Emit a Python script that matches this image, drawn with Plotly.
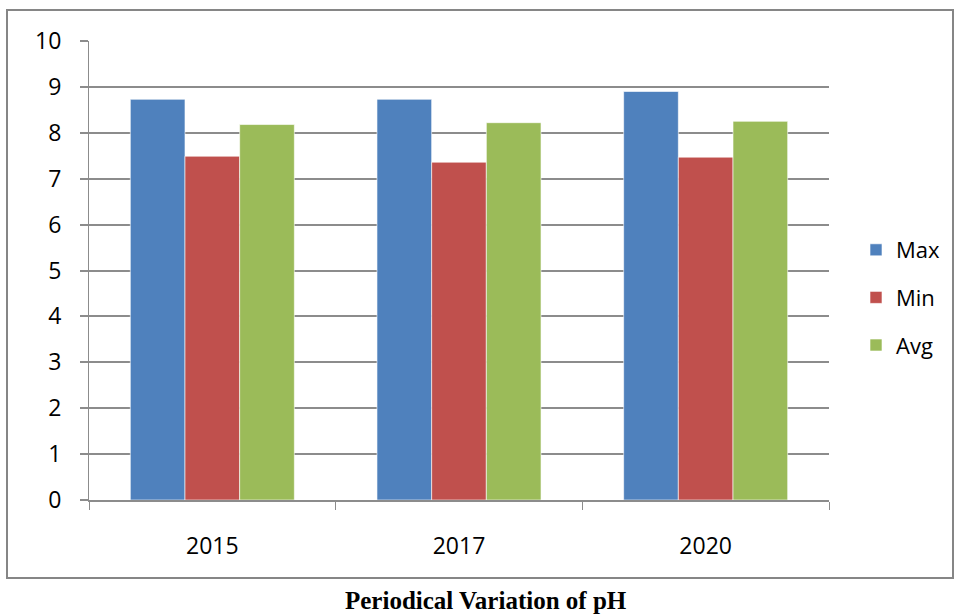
import plotly.graph_objects as go

# pH readings per survey year
years = ["2015", "2017", "2020"]
ph_max = [8.73, 8.73, 8.90]
ph_min = [7.49, 7.36, 7.47]
ph_avg = [8.18, 8.22, 8.25]

series = [
    ("Max", ph_max, "#4F81BD"),
    ("Min", ph_min, "#C0504D"),
    ("Avg", ph_avg, "#9BBB59"),
]

W, H = 954, 615
L, R, T, B = 89, 829, 41, 500  # plot area in pixels

fig = go.Figure()
for name, vals, color in series:
    fig.add_trace(go.Bar(
        x=years, y=vals, name=name, legendgroup=name,
        marker=dict(color=color, line=dict(color="rgba(255,255,255,0.6)", width=1)),
    ))

grid = "#8C8C8C"
label_font = dict(family="Open Sans, Liberation Sans, sans-serif", size=23, color="#000000")


def px_x(p):
    return (p - L) / (R - L)


def px_y(p):
    return (B - p) / (B - T)


fig.update_layout(
    width=W, height=H,
    margin=dict(l=L, r=W - R, t=T, b=H - B, autoexpand=False),
    paper_bgcolor="white", plot_bgcolor="white",
    barmode="group", bargap=0.335, bargroupgap=0,
    font=label_font,
    showlegend=True,
    legend=dict(
        x=px_x(856), y=px_y(229), xanchor="left", yanchor="top",
        font=dict(family="Open Sans, sans-serif", size=22, color="#000000"),
        tracegroupgap=16, itemwidth=30, bgcolor="rgba(0,0,0,0)",
    ),
    xaxis=dict(
        showline=True, linecolor=grid, linewidth=2,
        ticks="outside", tickson="boundaries", ticklen=8, tickcolor=grid, tickwidth=1,
        ticklabelstandoff=24, showgrid=False, tickfont=label_font,
    ),
    yaxis=dict(
        range=[0, 10], dtick=1, tick0=0,
        showline=True, linecolor=grid, linewidth=1,
        ticks="outside", ticklen=8, tickcolor=grid, tickwidth=2,
        showgrid=True, gridcolor=grid, gridwidth=2,
        ticklabelstandoff=14, tickfont=label_font, zeroline=False,
    ),
    shapes=[
        dict(type="rect", xref="paper", yref="paper",
             x0=px_x(7), x1=px_x(953), y0=px_y(578), y1=px_y(10),
             line=dict(color="#868686", width=2), fillcolor="rgba(0,0,0,0)", layer="below"),
    ],
    annotations=[
        dict(text="<b>Periodical Variation of pH</b>", xref="paper", yref="paper",
             x=px_x(486), y=px_y(600), xanchor="center", yanchor="middle", showarrow=False,
             font=dict(family="Liberation Serif, Times New Roman, serif", size=25, color="#000000")),
    ],
)

fig.write_html("out.html")
